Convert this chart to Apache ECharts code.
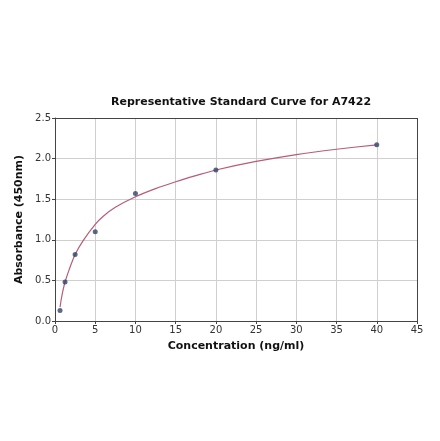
<!DOCTYPE html>
<html>
<head>
<meta charset="utf-8">
<script src="https://cdn.jsdelivr.net/npm/echarts@6/dist/echarts.min.js"></script>
<style>html,body{margin:0;padding:0;background:#fff}#c{width:440px;height:441px}</style>
</head>
<body>
<div id="c"></div>
<script>
const concentrations = [0.625, 1.25, 2.5, 5, 10, 20, 40];
const absorbances = [0.13, 0.48, 0.82, 1.10, 1.57, 1.86, 2.17];
const curveX = [0.625, 0.8, 1.0, 1.25, 1.75, 2.5, 3.5, 5, 6, 7.5, 10, 12.5, 15, 17.5, 20, 25, 30, 35, 40];
const curveY = [0.17, 0.28, 0.38, 0.48, 0.63, 0.82, 0.99, 1.19, 1.29, 1.40, 1.53, 1.63, 1.715, 1.79, 1.86, 1.965, 2.05, 2.115, 2.17];
const xTicks = [0, 5, 10, 15, 20, 25, 30, 35, 40, 45];
const yTicks = [0, 0.5, 1.0, 1.5, 2.0, 2.5];

const font = 'DejaVu Sans';
const chart = echarts.init(document.getElementById('c'));
chart.setOption({
  animation: false,
  backgroundColor: '#fff',
  title: {
    text: 'Representative Standard Curve for A7422',
    left: 236, top: 92, textAlign: 'center',
    textStyle: {fontFamily: font, fontSize: 11, fontWeight: 'bold', color: '#111'}
  },
  grid: {left: 55, right: 23, top: 118, bottom: 120},
  xAxis: {
    type: 'value', min: xTicks[0], max: xTicks[xTicks.length - 1], interval: 5,
    name: 'Concentration (ng/ml)', nameLocation: 'middle', nameGap: 20,
    nameTextStyle: {fontFamily: font, fontSize: 11, fontWeight: 'bold', color: '#111'},
    axisLine: {show: true, lineStyle: {color: '#444', width: 1}},
    axisTick: {show: true, length: 3, lineStyle: {color: '#444'}},
    axisLabel: {fontFamily: font, fontSize: 10, color: '#333', margin: 4},
    splitLine: {show: true, lineStyle: {color: '#cfcfcf', width: 1}}
  },
  yAxis: {
    type: 'value', min: yTicks[0], max: yTicks[yTicks.length - 1], interval: 0.5,
    name: 'Absorbance (450nm)', nameLocation: 'middle', nameGap: 24, nameRotate: 90,
    nameTextStyle: {fontFamily: font, fontSize: 11, fontWeight: 'bold', color: '#111'},
    axisLine: {show: true, lineStyle: {color: '#444', width: 1}},
    axisTick: {show: true, length: 3, lineStyle: {color: '#444'}},
    axisLabel: {fontFamily: font, fontSize: 10, color: '#333', margin: 4,
      formatter: v => v.toFixed(1)},
    splitLine: {show: true, lineStyle: {color: '#cfcfcf', width: 1}}
  },
  series: [
    {
      type: 'line', data: curveX.map((x, i) => [x, curveY[i]]),
      smooth: 0.3, showSymbol: false,
      lineStyle: {color: '#b85c78', width: 1.2}, z: 2
    },
    {
      type: 'scatter', data: concentrations.map((x, i) => [x, absorbances[i]]),
      symbolSize: 5, itemStyle: {color: '#2f4468'}, z: 3
    },
    {
      type: 'line', data: [], markLine: {
        silent: true, symbol: 'none', label: {show: false},
        lineStyle: {color: '#444', type: 'solid', width: 1},
        data: [{xAxis: 45}, {yAxis: 2.5}]
      }
    }
  ]
});
</script>
</body>
</html>
